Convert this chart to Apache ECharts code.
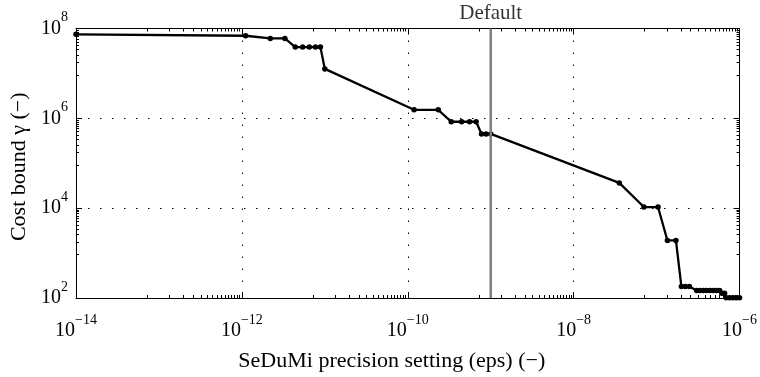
<!DOCTYPE html>
<html>
<head>
<meta charset="utf-8">
<script src="https://cdn.jsdelivr.net/npm/echarts@6/dist/echarts.min.js"></script>
<style>html,body{margin:0;padding:0;background:#fff}#c{width:760px;height:377px}</style>
</head>
<body>
<div id="c"></div>
<script>
// Precision setting eps (x) and cost bound gamma (y)
var epsValues = [1e-14, 1.11e-12, 2.2e-12, 3.3e-12, 4.4e-12, 5.4e-12, 6.5e-12, 7.7e-12, 8.85e-12, 1.0e-11,
  1.19e-10, 2.33e-10, 3.34e-10, 4.46e-10, 5.56e-10, 6.67e-10, 7.74e-10, 8.79e-10, 1.0e-9,
  3.55e-8, 7.03e-8, 1.04e-7, 1.35e-7, 1.71e-7, 1.99e-7, 2.22e-7, 2.48e-7,
  3.04e-7, 3.33e-7, 3.66e-7, 4.0e-7, 4.4e-7, 4.82e-7, 5.27e-7, 5.75e-7,
  6.12e-7, 6.6e-7, 6.9e-7, 7.59e-7, 8.32e-7, 9.1e-7, 1.0e-6];
var gammaValues = [7.4e7, 6.9e7, 6.0e7, 6.0e7, 3.85e7, 3.85e7, 3.85e7, 3.85e7, 3.85e7, 1.26e7,
  1.55e6, 1.55e6, 8.4e5, 8.4e5, 8.4e5, 8.4e5, 4.5e5, 4.5e5, 4.5e5,
  3.65e4, 1.06e4, 1.06e4, 1.91e3, 1.91e3, 180, 180, 180,
  147, 147, 147, 147, 147, 147, 147, 147,
  128, 128, 101, 101, 101, 101, 101];
var xRange = [1e-14, 1e-6];
var yRange = [1e2, 1e8];
var defaultEps = 1e-9;
var xName = 'SeDuMi precision setting (eps) (\u2212)';
var yName = 'Cost bound \u03b3 (\u2212)';
var defaultLabel = 'Default';

var points = epsValues.map(function (x, i) { return [x, gammaValues[i]]; });
var FONT = 'Liberation Serif';

function powLabel(v) {
  var e = Math.round(Math.log10(v));
  var s = e < 0 ? '\u2212' + (-e) : String(e);
  return '{b|10}{s|' + s + '}';
}
var richDef = {
  b: { fontSize: 20, fontFamily: FONT, color: '#000', lineHeight: 36 },
  s: { fontSize: 14, fontFamily: FONT, color: '#000', lineHeight: 14, verticalAlign: 'top' }
};
var gridDots = { color: '#000', width: 1, type: [1.5, 10.5] };

var chart = echarts.init(document.getElementById('c'), null, { renderer: 'canvas' });
var boxAxisCommon = {
  type: 'log', logBase: 10,
  axisLine: { show: true, onZero: false, lineStyle: { color: '#000', width: 1 } },
  axisTick: { show: true, inside: true, length: 6, lineStyle: { color: '#000' } },
  minorTick: { show: true, splitNumber: 16, length: 3, lineStyle: { color: '#000' } },
  splitLine: { show: false },
  axisLabel: { show: false }
};
chart.setOption({
  animation: false,
  backgroundColor: '#fff',
  grid: { left: 76, right: 18, top: 28.5, bottom: 76, containLabel: false },
  xAxis: [{
    type: 'log', logBase: 10, min: xRange[0], max: xRange[1], interval: 2,
    position: 'bottom',
    name: xName, nameLocation: 'middle', nameGap: 52,
    nameTextStyle: { fontSize: 22, fontFamily: FONT, color: '#000', padding: [0, 32, 0, 0] },
    axisLine: { show: true, onZero: false, lineStyle: { color: '#000', width: 1 } },
    axisTick: { show: true, inside: true, length: 6, lineStyle: { color: '#000' } },
    minorTick: { show: true, splitNumber: 16, length: 3, lineStyle: { color: '#000' } },
    splitLine: { show: true, lineStyle: gridDots },
    axisLabel: { margin: 15, formatter: powLabel, rich: richDef, showMinLabel: true, showMaxLabel: true }
  }, Object.assign({}, boxAxisCommon, {
    min: xRange[0], max: xRange[1], interval: 2, position: 'top'
  })],
  yAxis: [{
    type: 'log', logBase: 10, min: yRange[0], max: yRange[1], interval: 2,
    position: 'left',
    name: yName, nameLocation: 'middle', nameGap: 44, nameRotate: 90,
    nameTextStyle: { fontSize: 22, fontFamily: FONT, color: '#000', padding: [0, 7, 0, 0] },
    axisLine: { show: true, onZero: false, lineStyle: { color: '#000', width: 1 } },
    axisTick: { show: true, inside: true, length: 6, lineStyle: { color: '#000' } },
    minorTick: { show: true, splitNumber: 12, length: 3, lineStyle: { color: '#000' } },
    splitLine: { show: true, lineStyle: gridDots },
    axisLabel: { margin: 8, formatter: powLabel, rich: richDef }
  }, Object.assign({}, boxAxisCommon, {
    min: yRange[0], max: yRange[1], interval: 2, position: 'right',
    minorTick: { show: true, splitNumber: 12, length: 3, lineStyle: { color: '#000' } }
  })],
  series: [{
    type: 'line',
    data: [[defaultEps, yRange[0]], [defaultEps, yRange[1]]],
    symbol: 'none',
    lineStyle: { color: '#7f7f7f', width: 2.5 },
    silent: true,
    z: 4
  }, {
    type: 'scatter',
    data: [[defaultEps, yRange[1]]],
    symbolSize: 0,
    silent: true,
    label: { show: true, position: 'top', distance: 5, formatter: defaultLabel, fontSize: 21, fontFamily: FONT, color: '#000' }
  }, {
    type: 'line',
    data: points,
    symbol: 'circle', symbolSize: 5.5, showAllSymbol: true,
    itemStyle: { color: '#000' },
    lineStyle: { color: '#000', width: 2.3 },
    z: 3
  }]
});
</script>
</body>
</html>
